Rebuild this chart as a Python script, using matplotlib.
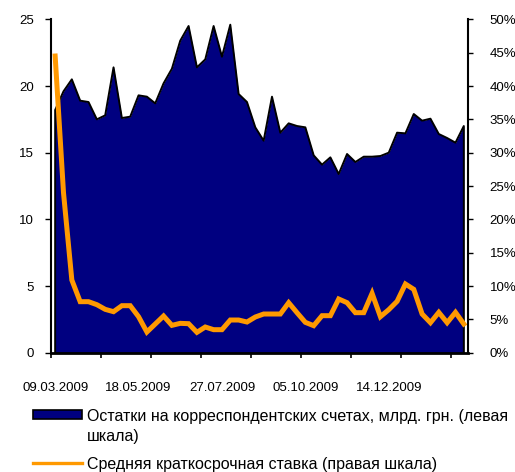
import numpy as np
import pandas as pd
import matplotlib
matplotlib.use("Agg")
from matplotlib import pyplot as plt
from matplotlib.patches import Rectangle
from matplotlib.lines import Line2D
from matplotlib.ticker import FuncFormatter

plt.rcParams['font.family'] = ['Liberation Sans', 'DejaVu Sans']

dates = pd.date_range("2009-03-09", periods=50, freq="7D")

# остатки на корсчетах, млрд. грн. (левая шкала)
balances = [18.2, 19.6, 20.5, 18.9, 18.8, 17.5, 17.8, 21.4, 17.6, 17.7,
            19.3, 19.2, 18.7, 20.2, 21.3, 23.4, 24.5, 21.4, 22.0, 24.5,
            22.2, 24.6, 19.4, 18.8, 16.9, 15.9, 19.2, 16.5, 17.2, 17.0,
            16.9, 14.8, 14.1, 14.65, 13.4, 14.9, 14.3, 14.7, 14.7, 14.75,
            15.0, 16.5, 16.45, 17.9, 17.4, 17.55, 16.4, 16.1, 15.75, 17.0]

# средняя краткосрочная ставка, % (правая шкала)
rate = [44.5, 24.0, 10.9, 7.65, 7.65, 7.2, 6.5, 6.15, 7.05, 7.05,
        5.4, 3.1, 4.3, 5.5, 4.1, 4.4, 4.35, 3.05, 3.85, 3.45,
        3.45, 4.9, 4.9, 4.6, 5.35, 5.8, 5.8, 5.8, 7.5, 6.0,
        4.55, 4.05, 5.55, 5.55, 8.05, 7.5, 6.0, 6.0, 8.9, 5.4,
        6.45, 7.7, 10.3, 9.5, 5.8, 4.5, 6.05, 4.5, 6.05, 4.3]

label_area = ["Остатки на корреспондентских счетах, млрд. грн. (левая", "шкала)"]
label_line = "Средняя краткосрочная ставка (правая шкала)"

navy = "#000080"
orange = "#FF9900"

W, H = 515, 472
x = np.arange(len(dates))

fig = plt.figure(figsize=(W / 100, H / 100), dpi=100)
ax = fig.add_axes([0.099, 0.2528, 0.8097, 0.7062])

ax.fill_between(x, balances, 0, color=navy, linewidth=0)
ax.plot(np.r_[x[0], x, x[-1]], np.r_[0, balances, 0], color="black", lw=1.4)

ax.set_xlim(-0.5, len(x) - 0.5)
ax.set_ylim(0, 25)
ax.set_yticks(np.arange(0, 26, 5))
ax.tick_params(axis="y", direction="out", length=4.5, width=1, pad=8, labelsize=9.5)

# деления между категориями, подписи каждые 10 недель
ax.set_xticks(np.arange(-0.5, len(x), 6))
ax.set_xticklabels([])
ax.set_xticks(x[::10], minor=True)
ax.set_xticklabels([d.strftime("%d.%m.%Y") for d in dates[::10]], minor=True)
ax.tick_params(axis="x", which="major", direction="out", length=3.5, width=1.2)
ax.tick_params(axis="x", which="minor", length=0, pad=21, labelsize=9.5)

for s in ["top", "right"]:
    ax.spines[s].set_visible(False)
ax.spines["left"].set_linewidth(1.5)
ax.spines["bottom"].set_linewidth(2)

ax2 = ax.twinx()
ax2.plot(x, rate, color=orange, lw=3.6, solid_joinstyle="miter")
ax2.set_ylim(0, 50)
ax2.set_yticks(np.arange(0, 51, 5))
ax2.yaxis.set_major_formatter(FuncFormatter(lambda v, p: "%d%%" % v))
ax2.tick_params(axis="y", direction="out", length=3.5, width=1, pad=12, labelsize=9.5)
for s in ["top", "left", "bottom"]:
    ax2.spines[s].set_visible(False)
ax2.spines["right"].set_linewidth(1.5)

# легенда под графиком (ключ по первой строке подписи)
fig.add_artist(Rectangle((33 / W, 1 - 419 / H), 49 / W, 9 / H, transform=fig.transFigure,
                         facecolor=navy, edgecolor="black", linewidth=1.2))
fig.text(87 / W, 1 - 421.5 / H, label_area[0], fontsize=11.5, va="baseline")
fig.text(87 / W, 1 - 441.5 / H, label_area[1], fontsize=11.5, va="baseline")
fig.add_artist(Line2D([33 / W, 82 / W], [1 - 463 / H, 1 - 463 / H], transform=fig.transFigure,
                      color=orange, lw=2.4))
fig.text(87 / W, 1 - 469.5 / H, label_line, fontsize=11.5, va="baseline")

fig.savefig("out.png", dpi=100)
